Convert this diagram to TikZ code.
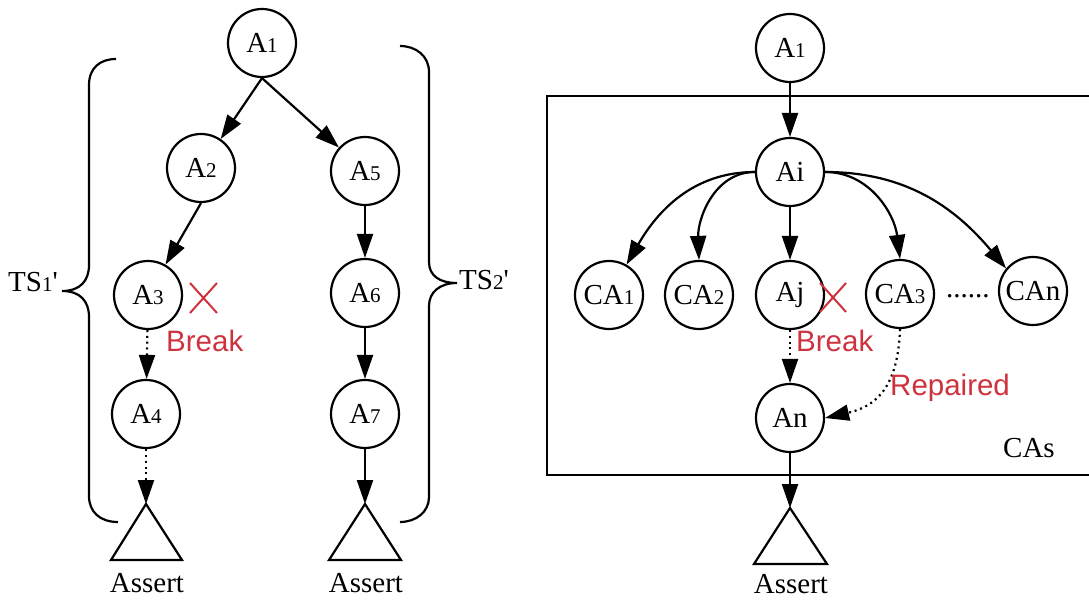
\documentclass[tikz,border=0pt]{standalone}
\usepackage{fontspec}
\setmainfont{Liberation Serif}[Ligatures=TeXOff]
\newfontfamily\sansf{Liberation Sans}
\usetikzlibrary{arrows.meta}
\definecolor{brk}{RGB}{206,50,62}
\newcommand\sbs[1]{{\fontsize{21}{21}\selectfont #1}}
\begin{document}
\begin{tikzpicture}[x=1pt,y=-1pt,
  every node/.style={font=\fontsize{29}{34}\selectfont},
  st/.style={draw, circle, line width=2.2pt, minimum size=68pt, inner sep=0pt},
  ar/.style={line width=2.2pt, -{Triangle[length=24pt,width=16pt]}},
  dt/.style={ar, dash pattern=on 2pt off 3.8pt},
  ln/.style={line width=2.2pt},
  redx/.style={draw=brk, line width=2pt},
  lbl/.style={text=brk, font=\sansf\fontsize{29.5}{33}\selectfont, inner sep=0pt, anchor=base west},
  txt/.style={inner sep=0pt, anchor=base west},
  tri/.style={line width=2.2pt, line join=miter},
]
\useasboundingbox (0,0) rectangle (1089,601);

% ---------- left part ----------
\node[st] (L1) at (262,43) {A\sbs{1}};
\node[st] (L2) at (201,168) {A\sbs{2}};
\node[st] (L5) at (365,171) {A\sbs{5}};
\node[st] (L3) at (148,295) {A\sbs{3}};
\node[st] (L6) at (365,293) {A\sbs{6}};
\node[st] (L4) at (146,414) {A\sbs{4}};
\node[st] (L7) at (365,414) {A\sbs{7}};

\coordinate (T1) at (146,504);
\coordinate (T2) at (365,504);
\draw[tri] (T1) -- (111,560) -- (182,560) -- cycle;
\draw[tri] (T2) -- (329,560) -- (401,560) -- cycle;
\node[inner sep=0pt, anchor=base] (S1) at (147,592) {Assert};
\node[inner sep=0pt, anchor=base] (S2) at (366,592) {Assert};

\draw[ar] (L1.south) -- (L2);
\draw[ar] (L1.south) -- (L5);
\draw[ar] (L2.south) -- (L3);
\draw[ar] (L5) -- (L6);
\draw[ar] (L6) -- (L7);
\draw[ar] (L7) -- (T2);
\draw[dt] (L3) -- (L4);
\draw[dt] (L4) -- (T1);

\draw[redx] (190,283) -- (217,313) (217,283) -- (190,313);
\node[lbl] (B1) at (166,352) {Break};

% braces
\draw[ln] (116,59) .. controls (100,59) and (89,68) .. (89,85) -- (89,265)
  .. controls (89,281) and (80,291) .. (62,291)
  .. controls (80,291) and (89,301) .. (89,317) -- (89,496)
  .. controls (89,512) and (100,522) .. (118,522);
\draw[ln] (400,46) .. controls (416,46) and (429,56) .. (429,72) -- (429,262)
  .. controls (429,276) and (440,283) .. (457,283)
  .. controls (440,283) and (429,292) .. (429,306) -- (429,497)
  .. controls (429,512) and (416,522) .. (400,522);
\node[txt] (TS1) at (8,292) {TS\sbs{1}'};
\node[txt] (TS2) at (459,290) {TS\sbs{2}'};

% ---------- right part ----------
\draw[ln] (1095,96) -- (547,96) -- (547,475) -- (1095,475);
\node[txt] (CAs) at (1003,457) {CAs};

\node[st] (R1) at (790,48) {A\sbs{1}};
\node[st] (Ai) at (790,172) {Ai};
\node[st] (CA1) at (609,295) {CA\sbs{1}};
\node[st] (CA2) at (699,295) {CA\sbs{2}};
\node[st] (Aj) at (790,295) {Aj};
\node[st] (CA3) at (900,294) {CA\sbs{3}};
\node[st] (CAn) at (1033,291) {CAn};
\node[st] (An) at (790,418) {An};
\node[txt] (dots) at (946,298) {......};

\coordinate (T3) at (790,508);
\draw[tri] (T3) -- (754,564) -- (827,564) -- cycle;
\node[inner sep=0pt, anchor=base] (S3) at (791,593) {Assert};

\draw[ar] (R1) -- (Ai);
\draw[ar] (Ai.west) to[out=180,in=60] (CA1.60);
\draw[ar] (Ai.west) to[out=180,in=92] (CA2.north);
\draw[ar] (Ai) -- (Aj);
\draw[ar] (Ai.east) to[out=0,in=97] (CA3.north);
\draw[ar] (Ai.east) to[out=0,in=130] (CAn.140);
\draw[dt] (Aj) -- (An);
\draw[dt] (CA3.south) .. controls (898,385) and (878,406) .. (An.east);
\draw[ar] (An) -- (T3);

\draw[redx] (820,283) -- (846,312) (846,283) -- (820,312);
\node[lbl] (B2) at (796,352) {Break};
\node[lbl] (Rp) at (890,395) {Repaired};
\end{tikzpicture}
\end{document}
